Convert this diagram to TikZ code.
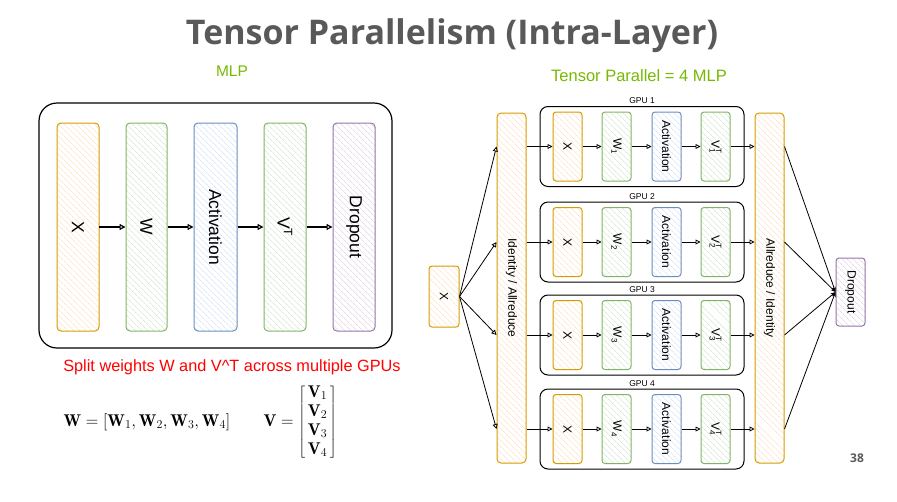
\documentclass[tikz,border=0pt]{standalone}
\usepackage{fontspec}
\setsansfont{Liberation Sans}
\newfontfamily\titlefont{Open Sans}
\usetikzlibrary{patterns.meta,arrows.meta}
\definecolor{org}{HTML}{D79B00}
\definecolor{orgh}{HTML}{FCD8B0}
\definecolor{grn}{HTML}{82B366}
\definecolor{grnh}{HTML}{C6DFC0}
\definecolor{blu}{HTML}{6C8EBF}
\definecolor{bluh}{HTML}{C8DAF4}
\definecolor{pur}{HTML}{9673A6}
\definecolor{purh}{HTML}{D8C8E0}
\definecolor{nvg}{HTML}{76B900}
\definecolor{tgray}{HTML}{595959}
\newcommand{\rt}[1]{\rotatebox{-90}{#1}}
\newcommand{\vtsub}[1]{V\rlap{\textsuperscript{T}}\textsubscript{#1}}
\begin{document}
\begin{tikzpicture}[x=1pt,y=-1pt,
  base/.style={draw, rounded corners=4pt, line width=1pt, inner sep=0pt},
  hatch/.style={pattern={Lines[angle=-45,distance=4pt,line width=0.5pt]}, pattern color=#1},
  obox/.style={base, draw=org, hatch=orgh},
  gbox/.style={base, draw=grn, hatch=grnh},
  bbox/.style={base, draw=blu, hatch=bluh},
  pbox/.style={base, draw=pur, hatch=purh},
  big/.style={minimum width=42, minimum height=208, font=\sffamily\fontsize{17.5}{20}\selectfont},
  sm/.style={minimum width=29, minimum height=69, rounded corners=3pt, font=\sffamily\fontsize{12}{14}\selectfont},
  tall/.style={minimum width=29, minimum height=350, font=\sffamily\fontsize{12}{14}\selectfont},
  gpu/.style={draw, line width=1pt, rounded corners=8pt, minimum width=204, minimum height=80, inner sep=0pt},
  gpulbl/.style={font=\sffamily\fontsize{8.5}{10}\selectfont, inner sep=0pt},
  arr/.style={-{Triangle[open,length=5pt,width=5pt]}, line width=0.8pt},
  larr/.style={-{Triangle[open,length=6pt,width=6pt]}, line width=1.2pt},
  carr/.style={-{Stealth[length=5pt,width=4pt]}, line width=0.8pt}
]
\useasboundingbox (0,0) rectangle (897,501);
% title
\node (title) at (452,36) {\titlefont\bfseries\fontsize{34}{40}\selectfont\color{tgray}Tensor Parallelism (Intra-Layer)};
\node (mlplbl) at (232,71) {\sffamily\fontsize{15.5}{18}\selectfont\color{nvg}MLP};
\node (tplbl) at (639,76) {\sffamily\fontsize{16.5}{19}\selectfont\color{nvg}Tensor Parallel = 4 MLP};
% left panel
\node[draw, line width=1.2pt, rounded corners=18pt, minimum width=353, minimum height=245, inner sep=0pt] (mlp) at (215.5,225.5) {};
\node[obox,big] (lx) at (78,227) {\rt{X}};
\node[gbox,big,minimum width=41] (lw) at (146.5,227) {\rt{W}};
\node[bbox,big,minimum width=43] (la) at (215.5,227) {\rt{Activation}};
\node[gbox,big] (lv) at (285,227) {\rt{V\textsuperscript{T}}};
\node[pbox,big] (ld) at (354,227) {\rt{Dropout}};
\draw[larr] (lx) -- (lw);
\draw[larr] (lw) -- (la);
\draw[larr] (la) -- (lv);
\draw[larr] (lv) -- (ld);
\node (split) at (232,367) {\sffamily\fontsize{16.3}{19}\selectfont\color{red}Split weights W and V\^{}T across multiple GPUs};
\node[anchor=west] (weq) at (60,422) {\fontsize{17}{20}\selectfont$\mathbf{W}=[\mathbf{W}_1,\mathbf{W}_2,\mathbf{W}_3,\mathbf{W}_4]$};
\node[anchor=west] (veq) at (260,422) {\fontsize{17}{19}\selectfont$\mathbf{V}=\left[\begin{array}{@{\,}c@{\,}}\mathbf{V}_1\\\mathbf{V}_2\\\mathbf{V}_3\\\mathbf{V}_4\end{array}\right]$};
% right panel
\node[obox,minimum width=30,minimum height=61,rounded corners=3pt,font=\sffamily\fontsize{12}{14}\selectfont] (rx) at (444,296.5) {\rt{X}};
\node[obox,tall] (idb) at (511.5,288) {\rt{Identity / Allreduce}};
\node[obox,tall] (arb) at (769.5,288) {\rt{Allreduce / Identity}};
\node[pbox,minimum width=29,minimum height=68,rounded corners=3pt,font=\sffamily\fontsize{12}{14}\selectfont] (rd) at (850.5,292) {\rt{Dropout}};
\foreach \i/\y in {1/146.5,2/242,3/335,4/429}{
  \node[gpu] (g\i) at (642,\y) {};
  \node[gpulbl,anchor=south] (gl\i) at ([yshift=2pt]g\i.north) {GPU \i};
  \node[obox,sm] (x\i) at (567.5,\y) {\rt{X}};
  \node[gbox,sm] (w\i) at (616.5,\y) {\rt{W\textsubscript{\i}}};
  \node[bbox,sm] (a\i) at (666.5,\y) {\rt{Activation}};
  \node[gbox,sm] (v\i) at (715.5,\y) {\rt{\vtsub{\i}}};
  \coordinate (in\i) at (idb.west |- g\i.center);
  \draw[arr] (rx.east) -- (in\i);
  \draw[arr] (idb.east |- g\i.center) -- (x\i);
  \draw[arr] (x\i) -- (w\i);
  \draw[arr] (w\i) -- (a\i);
  \draw[arr] (a\i) -- (v\i);
  \draw[arr] (v\i) -- (arb.west |- g\i.center);
  \draw[carr] (arb.east |- g\i.center) -- (rd.west);
}
\node (pg) at (857,458) {\titlefont\bfseries\fontsize{12}{14}\selectfont\color{tgray}38};
\end{tikzpicture}
\end{document}
